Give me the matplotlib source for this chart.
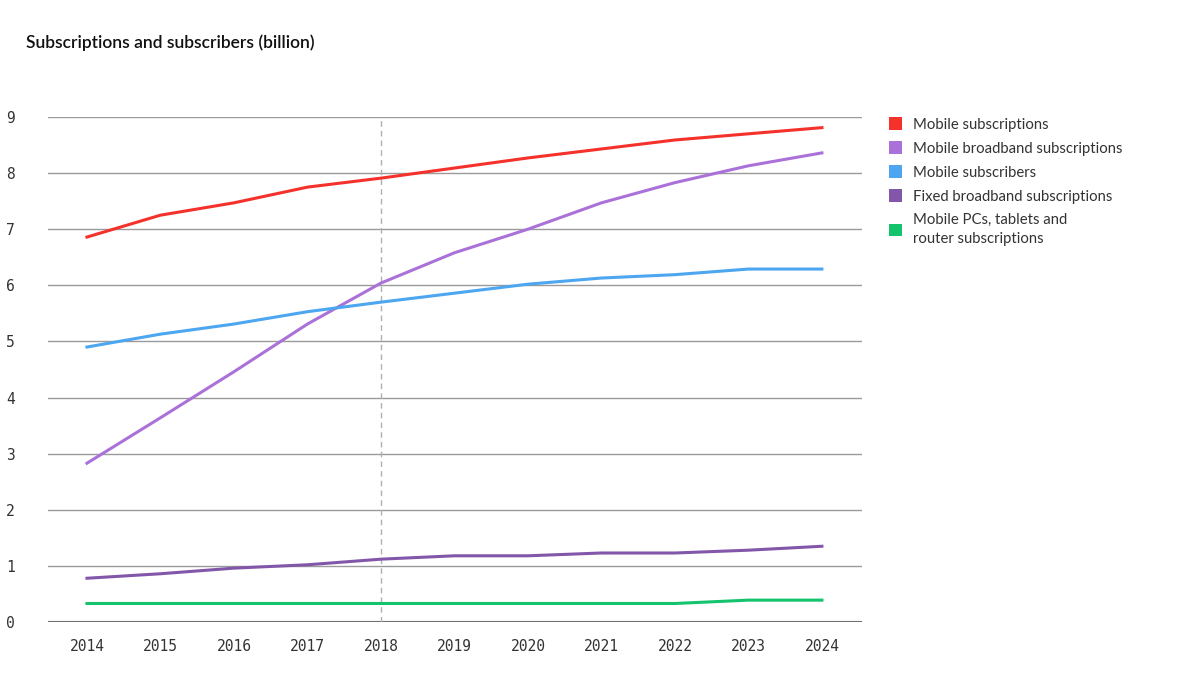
import matplotlib.pyplot as plt
from matplotlib.patches import Patch

# data
years = [2014, 2015, 2016, 2017, 2018, 2019, 2020, 2021, 2022, 2023, 2024]
mobile_subs = [6.86, 7.25, 7.47, 7.75, 7.91, 8.09, 8.27, 8.43, 8.59, 8.70, 8.81]
mobile_bb = [2.83, 3.64, 4.46, 5.31, 6.04, 6.58, 7.00, 7.47, 7.83, 8.13, 8.36]
mobile_subscribers = [4.90, 5.13, 5.31, 5.53, 5.70, 5.86, 6.02, 6.13, 6.19, 6.29, 6.29]
fixed_bb = [0.78, 0.86, 0.96, 1.02, 1.12, 1.18, 1.18, 1.23, 1.23, 1.28, 1.35]
pc_tablets = [0.33, 0.33, 0.33, 0.33, 0.33, 0.33, 0.33, 0.33, 0.33, 0.39, 0.39]

series = [
    ("Mobile subscriptions", mobile_subs, "#f5312c"),
    ("Mobile broadband subscriptions", mobile_bb, "#aa72d8"),
    ("Mobile subscribers", mobile_subscribers, "#4da6f0"),
    ("Fixed broadband subscriptions", fixed_bb, "#8257a9"),
    ("Mobile PCs, tablets and\nrouter subscriptions", pc_tablets, "#14c36c"),
]

fig = plt.figure(figsize=(12, 6.75), dpi=100)
ax = fig.add_axes([0.04, 0.0785, 0.678, 0.7482])

for y in range(1, 10):
    ax.axhline(y, color="#9a9a9a", lw=1, zorder=0)
ax.axhline(0, color="#6e6e6e", lw=1.5, zorder=0)
ax.axvline(2018, color="#b0b0b0", lw=1, ls=(0, (4, 3)), zorder=0)

for name, vals, col in series:
    ax.plot(years, vals, color=col, lw=2.2, zorder=3, clip_on=False)

ax.set_xlim(2013.47, 2024.54)
ax.set_ylim(0, 9)
ax.set_xticks(years)
ax.set_yticks(range(0, 10))
for s in ax.spines.values():
    s.set_visible(False)
ax.tick_params(length=0, labelsize=10.5, colors="#333333")
ax.tick_params(axis="x", pad=12)
ax.tick_params(axis="y", pad=14)
for lab in ax.get_xticklabels() + ax.get_yticklabels():
    lab.set_family("DejaVu Sans Mono")
for lab in ax.get_yticklabels():
    lab.set_horizontalalignment("left")
    lab.set_x(-0.028)

fig.text(0.022, 0.936, "Subscriptions and subscribers (billion)", fontsize=12.5,
         family="Lato", fontweight="semibold", color="#111111", va="center")

handles = [Patch(facecolor=c, edgecolor="none") for _, _, c in series]
labels = [n for n, _, _ in series]
leg = fig.legend(handles, labels, loc="upper left", bbox_to_anchor=(0.7345, 0.837),
                 frameon=False, prop={"family": "Lato", "size": 10.7},
                 handlelength=0.9, handleheight=0.9, handletextpad=0.75,
                 labelspacing=0.65, borderpad=0)
for t in leg.get_texts():
    t.set_color("#333333")
    t.set_linespacing(1.45)

fig.savefig("out.png", dpi=100)
